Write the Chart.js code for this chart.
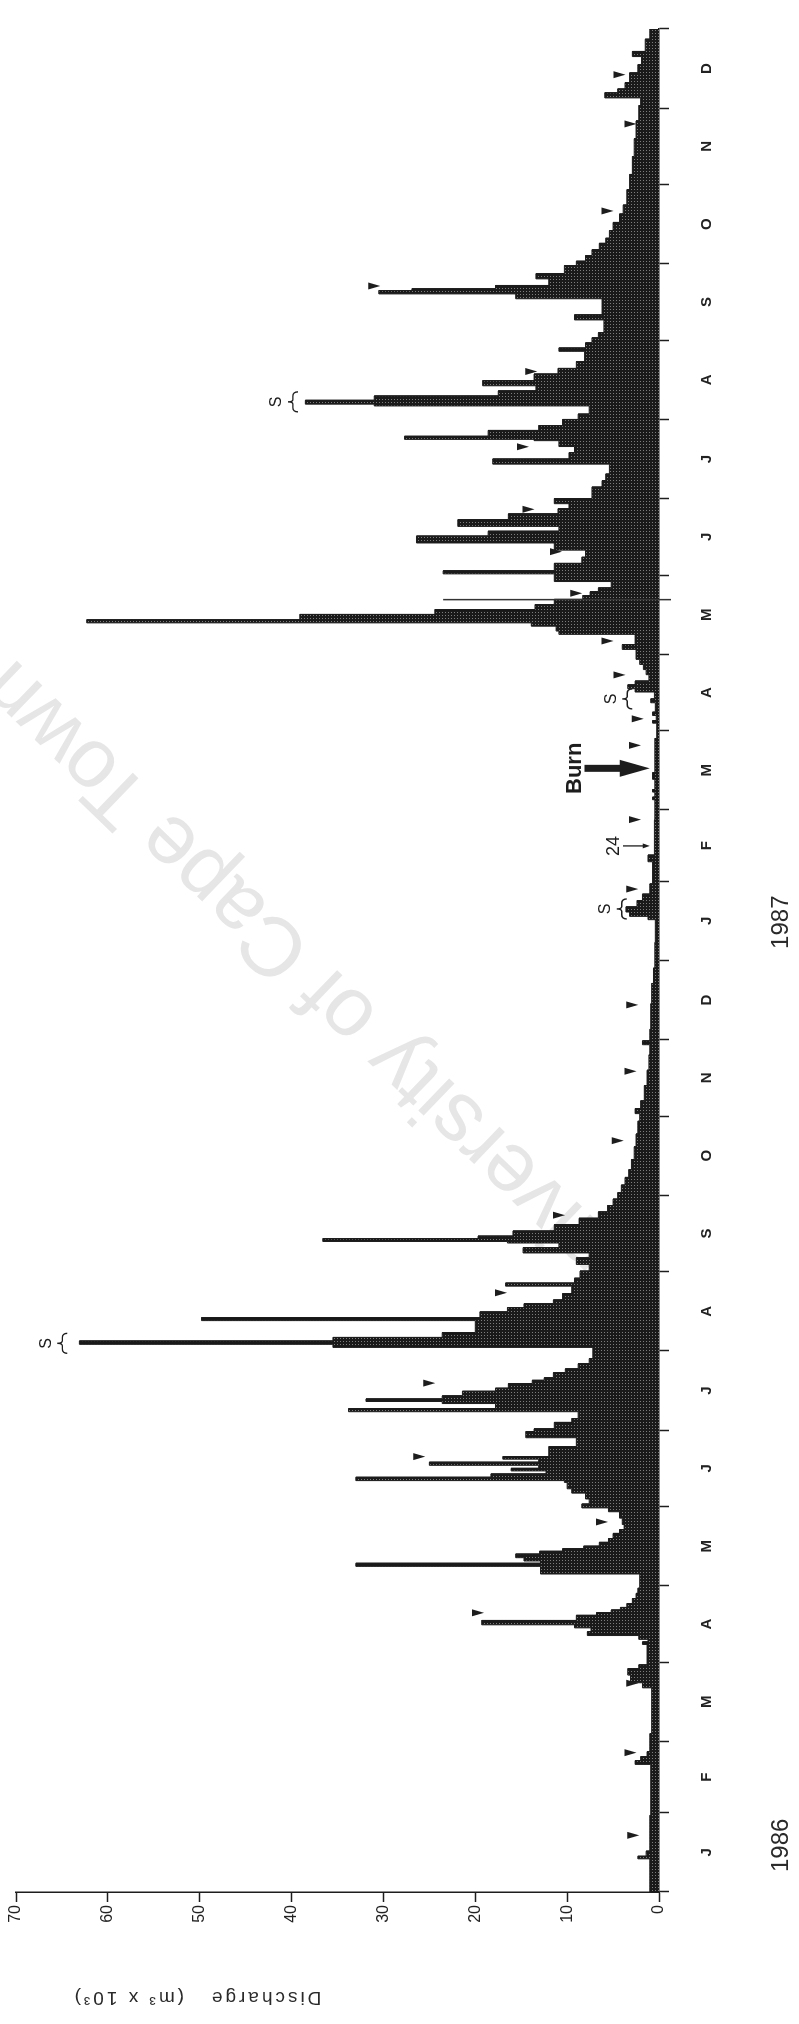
<!DOCTYPE html>
<html>
<head>
<meta charset="utf-8">
<title>Discharge 1986–1987</title>
<script src="https://cdn.jsdelivr.net/npm/chart.js@4.4.1/dist/chart.umd.min.js"></script>
<style>
  html, body { margin: 0; padding: 0; background: #fff; width: 799px; height: 2024px; overflow: hidden; position: relative; }
  #mark {
    position: absolute; left: 318px; top: 992px;
    transform: translate(-50%, -50%) rotate(224deg);
    font: 84px 'Liberation Sans', Arial, sans-serif; color: #e6e6e6;
    white-space: nowrap; line-height: 1;
  }
  /* the hydrograph is laid out landscape and turned a quarter turn onto the portrait page */
  #frame {
    position: absolute; left: 0; top: 0; width: 2024px; height: 799px;
    transform-origin: 0 0; transform: translate(0, 2024px) rotate(-90deg);
  }
</style>
</head>
<body>
<div id="mark">University of Cape Town</div>
<div id="frame"><canvas id="c" width="2024" height="799"></canvas></div>
<script>
// ---- time axis: days from 1 Jan 1986 ----
const monthStarts = [0, 31, 59, 90, 120, 151, 181, 212, 243, 273, 304, 334,
                     365, 396, 424, 455, 485, 516, 546, 577, 608, 638, 669, 699, 730];
const monthLetters = ['J','F','M','A','M','J','J','A','S','O','N','D',
                      'J','F','M','A','M','J','J','A','S','O','N','D'];
const yearText = ['1986', '1987'];
const yearDay = [18.3, 380];

// ---- value axis ----
const flowTicks = [0, 10, 20, 30, 40, 50, 60, 70];

// ---- daily discharge (m3 x 10^3): day on which a level starts, and the level ----
const stepDay = [
  0, 13, 14, 16, 30, 50, 51.5, 53, 55, 62, 80, 82, 85, 87.5, 89, 97, 98, 99,
  100.5, 102, 103.5, 104.7, 106.4, 108.4, 109.5, 110.5, 111.5, 113, 115, 117, 119,
  124.6, 127.6, 128.8, 129.7, 131, 132.4, 133.5, 134.5, 135.5, 137, 138.5, 140.5, 142, 144, 146.5, 149,
  150.5, 152, 154, 156.3, 158, 160.5, 161.2, 162.5, 163.8, 165, 166, 167.2, 168.4, 169.6, 170.6,
  174.5, 178, 180.4, 181.5, 184, 185.5, 188.2, 189.4, 191.4, 192.2, 193.2, 194.4, 196.2, 197.4,
  199.2, 200.5, 201.5, 203.5, 205, 207, 209, 213.4, 214.6, 215.9, 217.3, 219.2, 223.9, 225.1,
  227.3, 229, 230.5, 232, 234.5, 237.4, 238.6, 240.5, 243.3, 245.9, 248.5, 250.4, 252.5, 254.3,
  254.9, 256, 257, 259, 261.5, 264, 266.5, 269, 271.5, 274, 277, 280, 283, 287, 292, 297, 302,
  305, 307, 310, 316, 322, 328, 332, 333.5, 338, 348, 356, 362, 372,
  381, 382.3, 384, 386, 388.5, 391, 395, 403.7, 406.3, 420, 428, 429, 431, 432, 436, 438.6,
  452, 458, 459, 461, 462.3, 466, 467.5, 470.2, 471.5, 473, 474.5, 477, 479, 481, 483, 486.9, 488.8,
  492.8, 494.1, 496, 497.3, 498.5, 500.6, 502.5, 504.5, 506.5, 508, 509.5, 511, 513.5, 516.5, 517.7,
  520.6, 523, 525.8, 528.6, 531.3, 533.2, 535.1, 537.7, 540, 542, 544, 546, 550.5, 553, 555.6,
  559.5, 561.5, 564, 566.4, 568.7, 569.2, 570.4, 572.7, 574.6, 577, 579.1, 582.3, 583, 584.5,
  586.2, 588.2, 590.2, 592.2, 594.8, 597, 599.7, 603.7, 605, 607, 609, 611, 616, 618, 624.3,
  626.2, 627.5, 628.2, 629.5, 632.1, 634.1, 637.3, 639, 641.2, 643.5, 646, 648, 651, 654.2,
  657.5, 661, 667, 673, 680, 687, 694, 700, 703, 705, 706.5, 709, 712.8, 716, 719.2, 721.2, 726
];
const stepFlow = [
  1.0, 2.3, 1.4, 1.0, 0.9, 2.6, 2.0, 1.3, 1.0, 0.8, 1.8, 3.1, 3.4, 2.2, 1.3, 1.8, 1.2, 2.2,
  7.8, 7.4, 9.2, 19.3, 9.0, 6.8, 5.2, 4.2, 3.5, 2.9, 2.5, 2.3, 2.1,
  12.9, 33.0, 12.9, 14.7, 15.6, 13.0, 10.5, 8.2, 6.5, 5.5, 5.0, 4.3, 3.8, 4.0, 4.3, 5.5,
  8.4, 7.6, 8.0, 9.5, 10.0, 10.3, 33.0, 18.3, 12.3, 16.1, 13.1, 25.0, 13.1, 17.0, 12.0,
  9.0, 14.5, 13.6, 11.4, 9.5, 8.8, 33.8, 17.8, 23.6, 31.9, 23.6, 21.4, 17.8, 16.4,
  13.8, 12.5, 11.5, 10.2, 8.8, 7.6, 7.2, 35.5, 63.1, 35.5, 23.6, 20.0, 49.8, 19.5,
  16.5, 14.7, 11.5, 10.5, 9.5, 16.7, 9.2, 8.6, 7.6, 9.0, 7.6, 14.8, 10.9, 16.5,
  36.6, 19.7, 15.9, 11.4, 8.7, 6.6, 5.6, 5.0, 4.5, 4.1, 3.7, 3.3, 3.0, 2.7, 2.5, 2.3, 2.1,
  2.6, 2.0, 1.6, 1.3, 1.1, 1.0, 1.8, 1.0, 0.9, 0.8, 0.6, 0.45, 0.4,
  1.2, 3.2, 3.6, 2.4, 1.8, 1.0, 0.7, 1.2, 0.5, 0.45, 0.7, 0.45, 0.7, 0.45, 0.7, 0.45,
  0.25, 0.7, 0.3, 0.7, 0.4, 0.9, 0.5, 2.6, 3.4, 2.6, 1.1, 1.4, 1.7, 2.1, 2.5, 4.0, 2.6,
  10.9, 11.2, 13.9, 62.3, 39.1, 24.4, 13.5, 11.4, 8.3, 7.5, 6.6, 5.2, 11.4, 23.5, 11.4,
  8.4, 8.0, 11.4, 26.4, 18.6, 10.9, 21.9, 16.4, 11.0, 9.8, 11.4, 7.3, 6.2, 5.8, 5.4,
  18.1, 9.8, 9.2, 10.9, 13.6, 27.7, 18.6, 13.1, 10.5, 8.8, 7.6, 31.0, 38.5, 31.0,
  17.5, 13.4, 19.2, 13.6, 11.0, 9.0, 8.1, 10.9, 8.0, 7.3, 6.6, 6.0, 9.2, 6.2, 15.6,
  30.5, 26.9, 17.8, 12.0, 13.4, 10.3, 9.0, 8.0, 7.3, 6.5, 5.8, 5.4, 5.0, 4.3,
  3.9, 3.5, 3.2, 2.9, 2.7, 2.5, 2.2, 2.0, 5.9, 4.5, 3.7, 3.2, 2.3, 1.9, 2.9, 1.5, 1.0
];

// ---- event markers (triangles) ----
const markDay = [22.2, 54.6, 81.8, 109.4, 145, 170.6, 199.4, 234.8, 265.2, 294.4, 321.6, 347.6,
                 393, 420.2, 449.3, 459.7, 476.9, 490.2, 508.9, 525.2, 541.8, 566.3, 595.8,
                 629.3, 658.7, 692.8, 712.1];
const markFlow = [2.8, 3.1, 2.9, 19.7, 6.2, 26.1, 25.0, 17.2, 10.9, 4.5, 3.1, 2.9,
                  2.9, 2.6, 2.6, 2.3, 4.3, 5.6, 9.0, 11.2, 14.2, 14.8, 13.9,
                  31.0, 5.6, 3.1, 4.3];

// ---- sampled storms (S with brace) ----
const sampleDay = [215.0, 385.2, 467.5, 583.9];
const sampleFlow = [65.5, 4.6, 4.0, 40.4];

// ---- notes with arrows ----
const noteText = ['24', 'Burn'];
const noteDay = [409.9, 440.3];
const noteFlow = [4.9, 9.2];

// ---- stray rule across the May 1987 storm ----
const ruleDay = 506.4;
const ruleFlow = 23.5;

const ink = '#1d1d1d';
const family = "'Liberation Sans', Arial, Helvetica, sans-serif";

// step outline of the daily series
const points = [];
stepDay.forEach((d, i) => {
  const end = i + 1 < stepDay.length ? stepDay[i + 1] : monthStarts[monthStarts.length - 1];
  points.push({ x: d, y: stepFlow[i] });
  points.push({ x: end, y: stepFlow[i] });
});

// month boundaries carry the tick marks, mid-months carry the letters
const axisTicks = [];
const axisText = [];
for (let i = 0; i < monthLetters.length; i++) {
  axisTicks.push(monthStarts[i]); axisText.push('');
  axisTicks.push((monthStarts[i] + monthStarts[i + 1]) / 2); axisText.push(monthLetters[i]);
}
axisTicks.push(monthStarts[monthStarts.length - 1]); axisText.push('');

const canvas = document.getElementById('c');
const ctx0 = canvas.getContext('2d');

// coarse print screen for the filled area
function screenPattern() {
  const t = document.createElement('canvas');
  t.width = 3; t.height = 3;
  const g = t.getContext('2d');
  g.fillStyle = '#1a1a1a'; g.fillRect(0, 0, 3, 3);
  g.fillStyle = '#7d7d7d'; g.fillRect(1, 1, 1, 1);
  return ctx0.createPattern(t, 'repeat');
}

function overbrace(ctx, cx, ty, w, h) {
  const l = cx - w / 2, r = cx + w / 2, m = ty + h / 2, b = ty + h;
  ctx.beginPath();
  ctx.moveTo(l, b);
  ctx.quadraticCurveTo(l, m, l + w * 0.22, m);
  ctx.lineTo(cx - w * 0.12, m);
  ctx.quadraticCurveTo(cx, m, cx, ty);
  ctx.quadraticCurveTo(cx, m, cx + w * 0.12, m);
  ctx.lineTo(r - w * 0.22, m);
  ctx.quadraticCurveTo(r, m, r, b);
  ctx.stroke();
}

const notes = {
  id: 'notes',
  afterDatasetsDraw(chart) {
    const ctx = chart.ctx;
    const xs = chart.scales.x, ys = chart.scales.y;
    const X = d => xs.getPixelForValue(d);
    const Y = v => ys.getPixelForValue(v);
    const area = chart.chartArea;
    ctx.save();
    ctx.fillStyle = ink;
    ctx.strokeStyle = ink;

    // triangles
    markDay.forEach((d, i) => {
      const x = X(d), y = Y(markFlow[i]);
      ctx.beginPath();
      ctx.moveTo(x - 3.5, y - 6);
      ctx.lineTo(x + 3.5, y - 6);
      ctx.lineTo(x, y + 6);
      ctx.closePath();
      ctx.fill();
    });

    // S braces
    ctx.lineWidth = 1.4;
    ctx.font = '16px ' + family;
    ctx.textAlign = 'center';
    ctx.textBaseline = 'middle';
    sampleDay.forEach((d, i) => {
      const x = X(d), y = Y(sampleFlow[i]);
      overbrace(ctx, x, y, 20, 10);
      ctx.fillText('S', x, y - 11);
    });

    // "24" with a thin arrow
    {
      const x = X(noteDay[0]), y = Y(noteFlow[0]);
      ctx.font = '18px ' + family;
      ctx.fillText(noteText[0], x, y);
      const tail = y + 9, tip = Y(1.0);
      ctx.lineWidth = 1.3;
      ctx.beginPath(); ctx.moveTo(x, tail); ctx.lineTo(x, tip - 5); ctx.stroke();
      ctx.beginPath(); ctx.moveTo(x - 2.5, tip - 7); ctx.lineTo(x + 2.5, tip - 7); ctx.lineTo(x, tip); ctx.closePath(); ctx.fill();
    }

    // "Burn" with a heavy arrow
    {
      const x = X(noteDay[1]), y = Y(noteFlow[1]);
      ctx.font = 'bold 22px ' + family;
      ctx.fillText(noteText[1], x, y);
      const tail = y + 10, tip = Y(1.0), head = tip - 30;
      ctx.fillRect(x - 3.5, tail, 7, head - tail + 1);
      ctx.beginPath(); ctx.moveTo(x - 8.5, head); ctx.lineTo(x + 8.5, head); ctx.lineTo(x, tip); ctx.closePath(); ctx.fill();
    }

    // stray rule
    {
      const x = X(ruleDay);
      ctx.strokeStyle = '#333';
      ctx.lineWidth = 1.5;
      ctx.beginPath(); ctx.moveTo(x, Y(ruleFlow)); ctx.lineTo(x, area.bottom + 12); ctx.stroke();
    }

    // year captions
    ctx.fillStyle = '#2a2a2a';
    ctx.font = '24px ' + family;
    yearDay.forEach((d, i) => ctx.fillText(yearText[i], X(d), area.bottom + 122));

    // value axis title
    ctx.save();
    ctx.translate(27, 196.5);
    ctx.rotate(-Math.PI / 2);
    ctx.font = '19px ' + family;
    ctx.letterSpacing = '3px';
    ctx.fillText('Discharge   (m\u00b3 x 10\u00b3)', 0, 0);
    ctx.restore();

    ctx.restore();
  }
};

new Chart(canvas, {
  type: 'line',
  data: {
    datasets: [{
      data: points,
      borderColor: ink,
      borderWidth: 1,
      backgroundColor: screenPattern(),
      fill: 'origin',
      pointRadius: 0,
      tension: 0
    }]
  },
  options: {
    responsive: false,
    animation: false,
    devicePixelRatio: 1,
    events: [],
    layout: { padding: { left: 32, right: 15, top: 16, bottom: 40 } },
    plugins: { legend: { display: false }, tooltip: { enabled: false } },
    scales: {
      x: {
        type: 'linear',
        min: monthStarts[0],
        max: monthStarts[monthStarts.length - 1],
        afterBuildTicks: s => { s.ticks = axisTicks.map(v => ({ value: v })); },
        afterFit: s => { s.height = 100; },
        ticks: {
          autoSkip: false, maxRotation: 0, minRotation: 0, padding: 29,
          color: '#222', font: { family, size: 15, weight: 'bold' },
          callback: (v, i) => axisText[i]
        },
        grid: {
          drawOnChartArea: false, drawTicks: true, tickLength: 10, tickWidth: 1.5,
          tickColor: c => (c.index % 2 === 0 ? ink : 'rgba(0,0,0,0)')
        },
        border: { display: true, color: ink, width: 1.5 }
      },
      y: {
        min: flowTicks[0],
        max: flowTicks[flowTicks.length - 1],
        afterBuildTicks: s => { s.ticks = flowTicks.map(v => ({ value: v })); },
        afterFit: s => { s.width = 100; },
        ticks: { padding: 3, color: '#222', font: { family, size: 16 }, callback: v => String(v) },
        grid: { drawOnChartArea: false, drawTicks: true, tickLength: 10, tickWidth: 1.5, tickColor: ink },
        border: { display: true, color: ink, width: 1.5 }
      }
    }
  },
  plugins: [notes]
});
</script>
</body>
</html>
